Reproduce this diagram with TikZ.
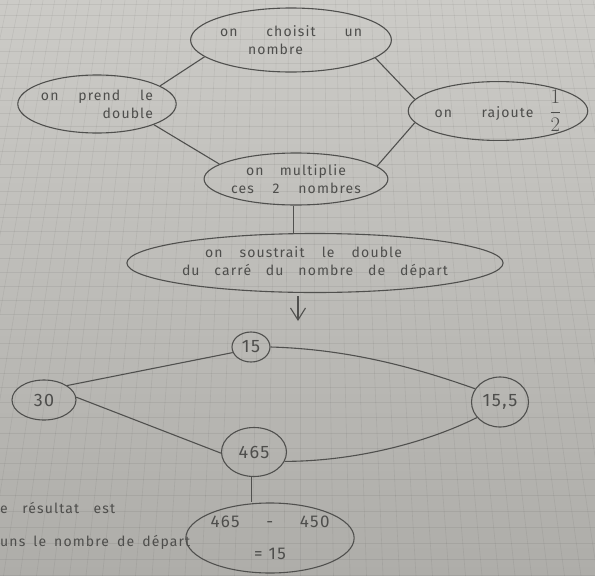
\documentclass[tikz,border=0pt]{standalone}
\usepackage{fontspec}
\setmainfont{Fira Sans}[LetterSpace=8]
\usetikzlibrary{shapes.geometric,arrows.meta}
\definecolor{pencil}{RGB}{80,80,78}
\definecolor{ink}{RGB}{78,78,76}
\definecolor{paperTop}{RGB}{204,203,199}
\definecolor{paperBot}{RGB}{174,173,169}
\newcommand\wline[2]{\makebox[#1][s]{#2}}
\begin{document}
\begin{tikzpicture}[x=1pt,y=-1pt,
  blob/.style={ellipse,draw=pencil,line width=1.1pt,inner sep=0pt,text=ink,
    font=\fontsize{14}{18}\selectfont},
  numblob/.style={blob,font=\fontsize{18}{20}\selectfont},
  link/.style={draw=pencil,line width=1.1pt},
  gridline/.style={draw=black,draw opacity=0.06,line width=0.6pt},
  plain/.style={inner sep=0pt,text=ink,font=\fontsize{14}{18}\selectfont}]
\useasboundingbox (0,0) rectangle (595,576);
\shade[top color=paperTop,bottom color=paperBot] (0,0) rectangle (595,576);
\begin{scope}
  \clip (0,0) rectangle (595,576);
  \foreach \i in {-40,...,40}
    \draw[gridline] ({300.5+11.7*\i},0) -- ({300.5+16.5*\i},576);
  \foreach \k in {0,...,44} {
    \pgfmathsetmacro\yy{4+1404*(exp(0.00833*\k)-1)}
    \draw[gridline] (0,\yy) -- (595,\yy);
  }
\end{scope}

% upper diagram
\node[blob,minimum width=178pt,minimum height=64pt,align=left] (choisit) at (291,40)
  {\wline{142pt}{on choisit un}\\\hspace*{28pt}nombre};
\node[blob,minimum width=133pt,minimum height=58pt,align=right] (prend) at (97,104)
  {\wline{112pt}{on prend le}\\double};
\node[blob,minimum width=170pt,minimum height=52pt] (rajoute) at (498,111)
  {\wline{99pt}{on rajoute}\hspace{16pt}{\fontsize{21}{24}\selectfont$\displaystyle\frac{1}{2}$}};
\node[blob,minimum width=143pt,minimum height=52pt,align=center] (multiplie) at (296,179)
  {\wline{100pt}{on multiplie}\\\wline{130pt}{ces 2 nombres}};
\node[blob,minimum width=276pt,minimum height=59pt,align=left] (soustrait) at (315,263)
  {\hspace*{23pt}\wline{197pt}{on soustrait le double}\\\wline{266pt}{du carré du nombre de départ}};

\draw[link] (choisit.191) -- (prend.16);
\draw[link] (choisit.348) -- (rajoute.172);
\draw[link] (prend.340) -- (multiplie.169);
\draw[link] (rajoute.188) -- (multiplie.9);
\draw[link] (multiplie.265) -- (multiplie.265 |- soustrait.north);

\coordinate (arrTop) at (298,296);
\coordinate (arrTip) at (298,321);
\draw[link,-{Straight Barb[length=12pt,width=15pt]}] (arrTop) -- (arrTip);

% lower diagram
\node[numblob,minimum width=38pt,minimum height=30pt] (n15) at (251,347) {15};
\node[numblob,minimum width=64pt,minimum height=40pt] (n30) at (44,400) {30};
\node[numblob,minimum width=57pt,minimum height=50pt] (n155) at (500,402) {15,5};
\node[numblob,minimum width=65pt,minimum height=49pt] (n465) at (254,452) {465};
\node[blob,font=\fontsize{17}{32}\selectfont,minimum width=155pt,minimum height=70pt,align=center] (res) at (270,538)
  {\wline{119pt}{465 - 450}\\= 15};

\draw[link] (n30.32) -- (n15.197);
\draw[link] (n15.0) .. controls +(70,2) and +(-70,-25) .. (n155.152);
\draw[link] (n30.5) -- (n465.182);
\draw[link] (n465.343) .. controls +(70,0) and +(-50,25) .. (n155.214);
\draw[link] (n465.265) -- (n465.265 |- res.north);

\node[plain,anchor=west] (t1) at (0,508) {\wline{115pt}{e résultat est}};
\node[plain,anchor=west] (t2) at (0,542) {\wline{190pt}{uns le nombre de départ}};
\end{tikzpicture}
\end{document}
